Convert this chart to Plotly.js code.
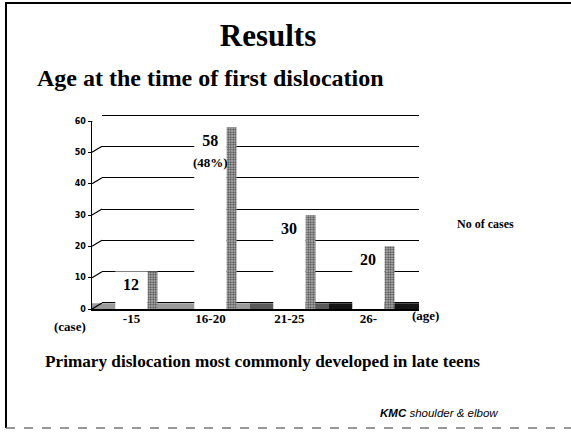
<!DOCTYPE html>
<html>
<head>
<meta charset="utf-8">
<script src="https://cdn.plot.ly/plotly-3.0.1.min.js"></script>
<style>html,body{margin:0;padding:0;background:#fff;}#chart{width:571px;height:434px;}</style>
</head>
<body>
<div id="chart"></div>
<script>
// ---- data ----
const categories = ["-15", "16-20", "21-25", "26-"];
const cases = [12, 58, 30, 20];
const shares = ["", "(48%)", "", ""];
const seriesName = "No of cases";
const yTicks = [0, 10, 20, 30, 40, 50, 60];

const W = 571, H = 434;
const px = v => v / W;
const py = v => (H - v) / H;

const serif = "Liberation Serif, Times New Roman, serif";

// back wall carrier (keeps the gridline subplot alive; draws nothing)
const wall = {
  type: "scatter", x: [0.5], y: [null], xaxis: "x", yaxis: "y",
  mode: "markers", showlegend: false, hoverinfo: "skip"
};
const front = {
  type: "bar", x: categories, y: cases, xaxis: "x2", yaxis: "y2",
  name: seriesName, width: 0.41, offset: -0.205,
  marker: {color: "#ffffff", line: {width: 0}},
  hoverinfo: "x+y"
};
const side = {
  type: "bar", x: categories, y: cases, xaxis: "x2", yaxis: "y2",
  showlegend: false, width: 0.125, offset: 0.205,
  marker: {color: "#a8a8a8", line: {width: 0},
           pattern: {shape: ".", fgcolor: "#4a4a4a", bgcolor: "#c4c4c4", size: 2.5, solidity: 0.5}},
  hoverinfo: "skip"
};

const labelAnns = categories.map((c, i) => ({
  xref: "x2", yref: "y2", x: i, y: cases[i], yanchor: "top", yshift: -3,
  showarrow: false,
  text: "<b>" + cases[i] + "</b>" + (shares[i] ? "<br><b><span style='font-size:13px'>" + shares[i] + "</span></b>" : ""),
  font: {family: serif, size: 16, color: "#000"}
}));

const connectorShapes = yTicks.map(v => ({
  type: "line", xref: "paper", yref: "y2",
  xsizemode: "pixel", xanchor: px(92), ysizemode: "pixel", yanchor: v,
  x0: 0, x1: 10, y0: 0, y1: 6, line: {color: "#000", width: 1.2}
}));

const layout = {
  width: W, height: H,
  margin: {l: 0, r: 0, t: 0, b: 0},
  paper_bgcolor: "#ffffff", plot_bgcolor: "rgba(0,0,0,0)",
  barmode: "overlay",
  showlegend: true,
  title: {text: "<b>Results</b>", x: px(268), xanchor: "center", xref: "paper",
          y: py(35), yanchor: "middle", yref: "paper",
          font: {family: serif, size: 31, color: "#000"}},
  // back wall (gridlines)
  xaxis: {domain: [px(102), px(419)], anchor: "y", range: [0, 1], showgrid: false,
          showticklabels: false, zeroline: false, showline: false, ticks: "", fixedrange: true},
  yaxis: {domain: [py(306.1), py(111.9)], anchor: "x", range: [-1, 61], tickvals: yTicks,
          showgrid: true, gridcolor: "#000", gridwidth: 1, showticklabels: false, ticks: "",
          zeroline: false, showline: false, fixedrange: true},
  // bars
  xaxis2: {domain: [px(92), px(419)], anchor: "y2", type: "category", range: [-0.5, 3.64],
           showgrid: false, zeroline: false, showline: true, linecolor: "#000", linewidth: 1.5,
           ticks: "", ticklabelstandoff: -3,
           tickfont: {family: serif, size: 13, color: "#000", weight: "bold"}},
  yaxis2: {domain: [py(309), py(121)], anchor: "x2", range: [0, 60], tickvals: yTicks,
           showgrid: false, zeroline: false, showline: true, linecolor: "#000", linewidth: 1.5,
           ticks: "outside", ticklen: 3, tickcolor: "#000",
           tickfont: {family: "DejaVu Sans, sans-serif", size: 8, color: "#000", weight: "bold"}},
  legend: {x: px(417), xanchor: "left", y: py(223), yanchor: "middle",
           bgcolor: "rgba(0,0,0,0)", font: {family: serif, size: 12, color: "#000", weight: "bold"}},
  shapes: [
    // floor slab
    {type: "rect", xref: "x2", yref: "y2", x0: -0.5, x1: 1.5, y0: 0, y1: 1.8, layer: "below",
     fillcolor: "#9a9a9a", line: {width: 0}},
    {type: "rect", xref: "x2", yref: "y2", x0: 1.5, x1: 2.5, y0: 0, y1: 1.8, layer: "below",
     fillcolor: "#5a5a5a", line: {width: 0}},
    {type: "rect", xref: "x2", yref: "y2", x0: 2.5, x1: 3.64, y0: 0, y1: 1.8, layer: "below",
     fillcolor: "#151515", line: {width: 0}},
    // slide frame
    {type: "line", xref: "paper", yref: "paper", x0: px(6), x1: px(6), y0: py(428), y1: py(2),
     line: {color: "#000", width: 2}},
    {type: "line", xref: "paper", yref: "paper", x0: px(6), x1: 1, y0: py(3), y1: py(3),
     line: {color: "#000", width: 2}},
    {type: "line", xref: "paper", yref: "paper", x0: px(6), x1: 1, y0: py(428), y1: py(428),
     line: {color: "#777", width: 1.5, dash: "dash"}}
  ].concat(connectorShapes),
  annotations: [
    {xref: "paper", yref: "paper", x: px(35), y: py(78), xanchor: "left", yanchor: "middle",
     showarrow: false, text: "<b>Age at the time of first dislocation</b>",
     font: {family: serif, size: 24, color: "#000"}},
    {xref: "paper", yref: "paper", x: px(70), y: py(326), xanchor: "center", yanchor: "middle",
     showarrow: false, text: "<b>(case)</b>", font: {family: serif, size: 13, color: "#000"}},
    {xref: "paper", yref: "paper", x: px(425), y: py(315), xanchor: "center", yanchor: "middle",
     showarrow: false, text: "<b>(age)</b>", font: {family: serif, size: 13, color: "#000"}},
    {xref: "paper", yref: "paper", x: px(43), y: py(361), xanchor: "left", yanchor: "middle",
     showarrow: false, text: "<b>Primary dislocation most commonly developed in late teens</b>",
     font: {family: serif, size: 17.2, color: "#000"}},
    {xref: "paper", yref: "paper", x: px(500), y: py(413), xanchor: "right", yanchor: "middle",
     showarrow: false, text: "<b><i>KMC</i></b><i> shoulder &amp; elbow</i>",
     font: {family: "Liberation Sans, Arial, sans-serif", size: 11.5, color: "#000"}}
  ].concat(labelAnns)
};

Plotly.newPlot("chart", [wall, front, side], layout, {displayModeBar: false, staticPlot: true});
</script>
</body>
</html>
